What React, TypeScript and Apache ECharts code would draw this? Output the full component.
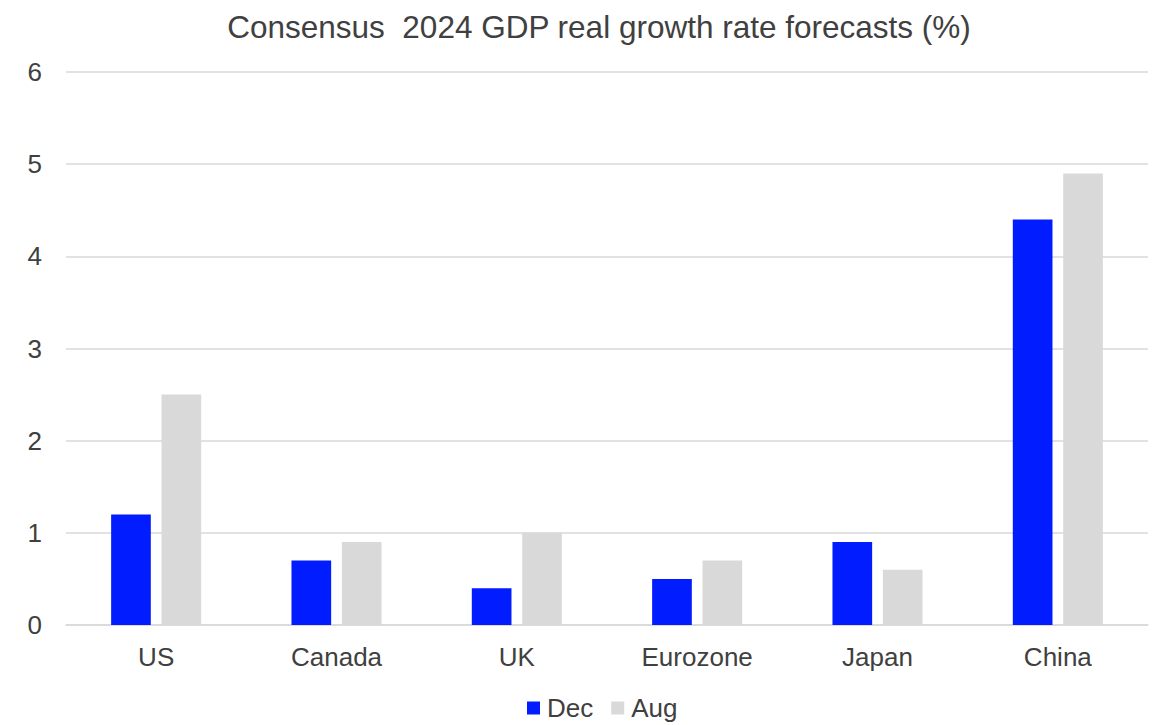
import React, { useEffect, useRef } from "react";
import * as echarts from "echarts";

const categories = ["US", "Canada", "UK", "Eurozone", "Japan", "China"];
const decValues = [1.2, 0.7, 0.4, 0.5, 0.9, 4.4];
const augValues = [2.5, 0.9, 1.0, 0.7, 0.6, 4.9];
const seriesNames = ["Dec", "Aug"];
const titleText = "Consensus  2024 GDP real growth rate forecasts (%)";

export default function App() {
  const ref = useRef<HTMLDivElement>(null);
  useEffect(() => {
    document.body.style.margin = "0";
    const chart = echarts.init(ref.current!, null, { renderer: "svg" });
    const font = "Liberation Sans, Arial, sans-serif";
    chart.setOption({
      animation: false,
      backgroundColor: "#ffffff",
      title: {
        text: titleText,
        left: 594,
        top: 6,
        textAlign: "center",
        textStyle: { fontFamily: font, fontSize: 31.5, fontWeight: "normal", color: "#404040" },
      },
      legend: {
        data: seriesNames,
        bottom: -1,
        left: 522,
        itemWidth: 13,
        itemHeight: 13,
        itemGap: 18,
        icon: "rect",
        textStyle: { fontFamily: font, fontSize: 26, color: "#404040", padding: [0, 0, 0, 2] },
      },
      grid: { left: 66, right: 15, top: 72, bottom: 100, containLabel: false },
      xAxis: {
        type: "category",
        data: categories,
        axisLine: { show: true, lineStyle: { color: "#d9d9d9", width: 1.5 } },
        axisTick: { show: false },
        axisLabel: { fontFamily: font, fontSize: 26, color: "#404040", margin: 19 },
      },
      yAxis: {
        type: "value",
        min: 0,
        max: 6,
        interval: 1,
        axisLine: { show: false },
        axisTick: { show: false },
        splitLine: { lineStyle: { color: "#d9d9d9", width: 1.5 } },
        axisLabel: { fontFamily: font, fontSize: 26, color: "#404040", margin: 24 },
      },
      series: [
        {
          name: seriesNames[0],
          type: "bar",
          data: decValues,
          barWidth: "22%",
          barGap: "27%",
          itemStyle: { color: "#001cff" },
        },
        {
          name: seriesNames[1],
          type: "bar",
          data: augValues,
          barWidth: "22%",
          barGap: "27%",
          itemStyle: { color: "#d9d9d9" },
        },
      ],
    });
    return () => chart.dispose();
  }, []);
  return <div ref={ref} style={{ width: 1163, height: 725 }} />;
}
